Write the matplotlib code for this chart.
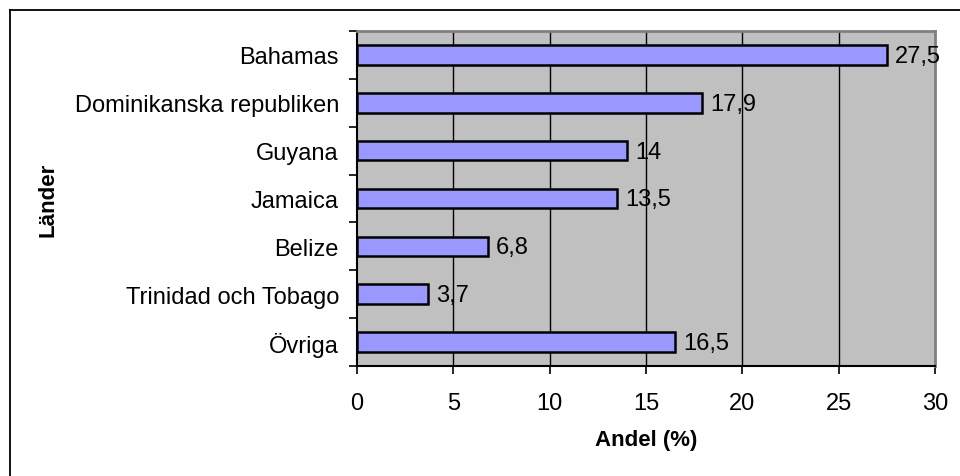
import matplotlib.pyplot as plt
from matplotlib.lines import Line2D

plt.rcParams['font.family'] = ['Liberation Sans', 'DejaVu Sans']

# data
lander = ['Bahamas', 'Dominikanska republiken', 'Guyana', 'Jamaica',
          'Belize', 'Trinidad och Tobago', 'Övriga']
andel = [27.5, 17.9, 14, 13.5, 6.8, 3.7, 16.5]
etiketter = ['27,5', '17,9', '14', '13,5', '6,8', '3,7', '16,5']
xticks = [0, 5, 10, 15, 20, 25, 30]

W, H = 960, 477
fig = plt.figure(figsize=(W / 100, H / 100), dpi=100)
ax = fig.add_axes([357 / W, 1 - 367 / H, (935 - 357) / W, (367 - 32) / H])

# outer chart frame (right and bottom edges are cut off in the original)
fig.add_artist(Line2D([10 / W, 10 / W], [0, 1 - 11 / H], color='black', lw=1.3,
                      transform=fig.transFigure))
fig.add_artist(Line2D([10 / W, 1], [1 - 11 / H, 1 - 11 / H], color='black', lw=1.3,
                      transform=fig.transFigure))

ax.set_facecolor('#C0C0C0')
pos = list(range(len(lander)))[::-1]
ax.barh(pos, andel, height=0.41, color='#9999FF', edgecolor='black', linewidth=1.8, zorder=3)

for p, v, t in zip(pos, andel, etiketter):
    ax.text(v + 0.42, p - 0.02, t, va='center', ha='left', fontsize=17, zorder=4, clip_on=False)

ax.set_xlim(0, 30)
ax.set_ylim(-0.5, len(lander) - 0.5)
ax.set_xticks(xticks)
ax.set_xticklabels([str(x) for x in xticks], fontsize=17)
ax.set_yticks(pos)
ax.set_yticklabels(lander, fontsize=17)
ax.set_yticks([p + 0.5 for p in range(-1, len(lander))], minor=True)

ax.tick_params(axis='y', which='major', length=0, pad=13)
ax.tick_params(axis='y', which='minor', length=6, width=1.2, color='black')
ax.tick_params(axis='x', length=6, width=1.2, pad=13)

for x in xticks[1:-1]:
    ax.axvline(x, color='black', lw=1.0, zorder=1)

ax.spines['left'].set_color('black')
ax.spines['left'].set_linewidth(1.5)
ax.spines['bottom'].set_color('black')
ax.spines['bottom'].set_linewidth(1.5)
ax.spines['top'].set_color('#808080')
ax.spines['top'].set_linewidth(2)
ax.spines['right'].set_color('#808080')
ax.spines['right'].set_linewidth(2)

fig.text(48 / W, 1 - 200 / H, 'Länder', rotation=90, ha='center', va='center',
         fontsize=16, fontweight='bold')
fig.text(646 / W, 1 - 441 / H, 'Andel (%)', ha='center', va='center',
         fontsize=16, fontweight='bold')

fig.savefig('out.png', dpi=100)
